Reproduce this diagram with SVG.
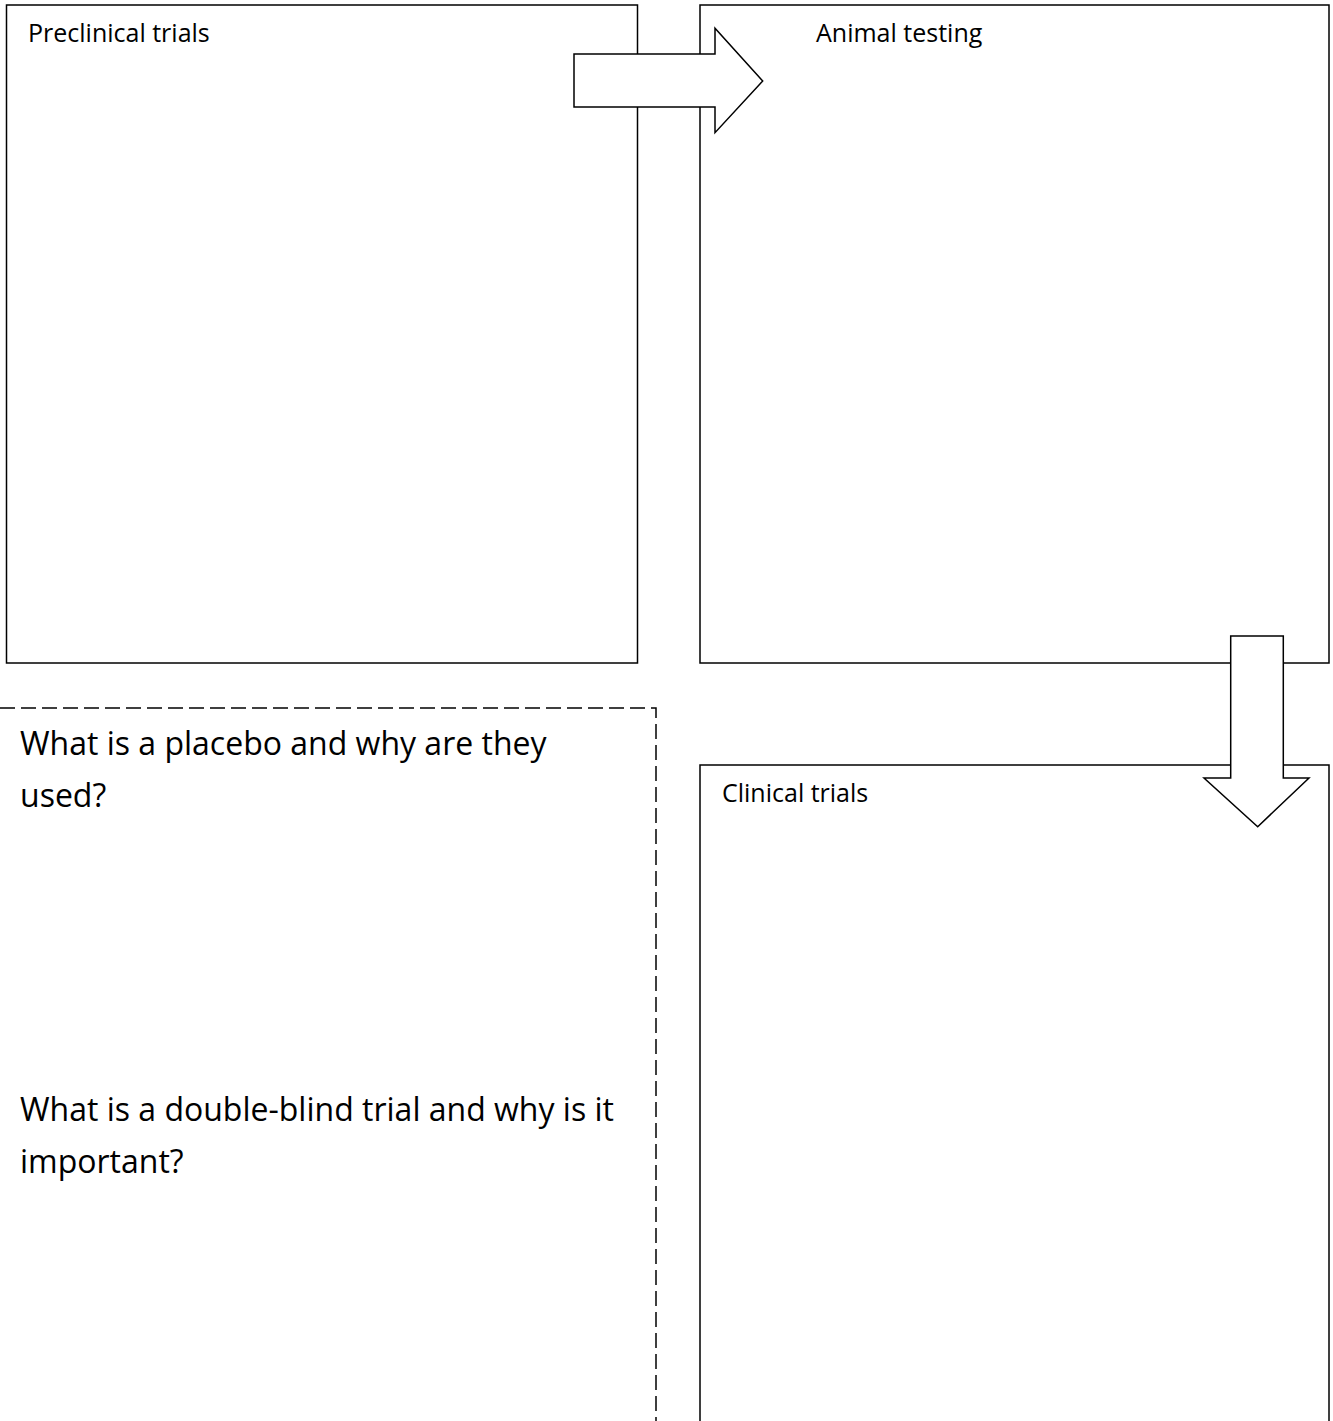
<svg xmlns="http://www.w3.org/2000/svg" width="1333" height="1421" viewBox="0 0 1333 1421">
<style>
.box{fill:#fff;stroke:#000;stroke-width:1.5}
.dash{fill:none;stroke:#000;stroke-width:1.5;stroke-dasharray:15 6}
.arrow{fill:#fff;stroke:#000;stroke-width:1.5;stroke-linejoin:miter}
.lbl{font-family:"Open Sans","Liberation Sans",sans-serif;font-size:25px;fill:#000}
.q{font-family:"Open Sans","Liberation Sans",sans-serif;font-size:32px;fill:#000}
</style>
<rect width="1333" height="1421" fill="#fff"/>
<g id="preclinical">
<rect class="box" x="6.5" y="5" width="631" height="658"/>
<text class="lbl" x="28" y="42">Preclinical trials</text>
</g>
<g id="animal">
<rect class="box" x="700" y="5" width="629" height="658"/>
<text class="lbl" x="816" y="42">Animal testing</text>
</g>
<g id="clinical">
<rect class="box" x="700" y="765" width="629" height="700"/>
<text class="lbl" x="722" y="802">Clinical trials</text>
</g>
<g id="questions">
<path class="dash" d="M0,708 H656 V1430"/>
<text class="q" x="20" y="755">What is a placebo and why are they</text>
<text class="q" x="20" y="807">used?</text>
<text class="q" x="20" y="1121">What is a double-blind trial and why is it</text>
<text class="q" x="20" y="1173">important?</text>
</g>
<g id="connectors">
<polygon class="arrow" points="574,54 715,54 715,28.3 762.7,81 715,132.7 715,107 574,107"/>
<polygon class="arrow" points="1230.7,636 1283.3,636 1283.3,778 1309,778 1257.7,826.7 1204,778 1230.7,778"/>
</g>
</svg>
